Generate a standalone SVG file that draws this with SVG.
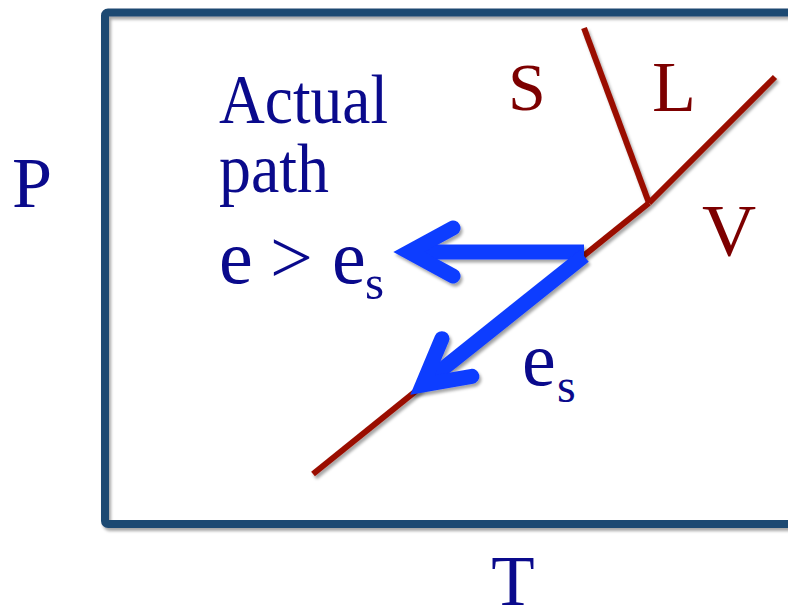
<svg xmlns="http://www.w3.org/2000/svg" width="788" height="610" viewBox="0 0 788 610">
  <defs>
    <filter id="shadow" x="-10%" y="-10%" width="130%" height="130%">
      <feDropShadow dx="2" dy="3" stdDeviation="1.8" flood-color="#000" flood-opacity="0.35"/>
    </filter>
    <style>
      .frame { fill: none; stroke: #1f4872; stroke-width: 8; }
      .phase { fill: none; stroke: #9a1000; stroke-width: 6; stroke-linecap: butt; }
      .shaft { fill: none; stroke: #0f3cff; stroke-width: 15; stroke-linecap: butt; }
      .head { fill: none; stroke: #0f3cff; stroke-width: 15; stroke-linecap: round; stroke-linejoin: miter; stroke-miterlimit: 6; }
      .blue { font-family: "Liberation Serif", "Times New Roman", serif; fill: #0a0a8c; }
      .red { font-family: "Liberation Serif", "Times New Roman", serif; fill: #7d0000; }
    </style>
  </defs>

  <rect id="frame" class="frame" x="105" y="12.5" width="700" height="511.5" rx="3" filter="url(#shadow)"/>

  <g id="axis-labels">
    <text id="label-P" class="blue" x="12" y="207" font-size="72">P</text>
    <text id="label-T" class="blue" x="513" y="605" font-size="71" text-anchor="middle">T</text>
  </g>

  <g id="phase-boundaries" filter="url(#shadow)">
    <line class="phase" x1="584" y1="28" x2="649" y2="203"/>
    <line class="phase" x1="775" y1="77" x2="649" y2="203"/>
    <line class="phase" x1="649" y1="203" x2="313" y2="474"/>
  </g>

  <g id="phase-labels">
    <text id="label-S" class="red" x="508" y="110" font-size="68">S</text>
    <text id="label-L" class="red" x="652" y="111" font-size="72">L</text>
    <text id="label-V" class="red" x="702" y="256" font-size="75">V</text>
  </g>

  <g id="arrows" filter="url(#shadow)">
    <g id="arrow-actual">
      <line class="shaft" x1="584" y1="252" x2="409" y2="252"/>
      <path class="head" d="M453,228 L409,252 L453,276"/>
    </g>
    <g id="arrow-es">
      <line class="shaft" x1="584" y1="256" x2="422.5" y2="385"/>
      <path class="head" d="M441.9,338.7 L422.5,385 L471.9,376.3"/>
    </g>
  </g>

  <g id="arrow-labels">
    <text id="label-actual" class="blue" x="219" y="123" font-size="69" textLength="169" lengthAdjust="spacingAndGlyphs">Actual</text>
    <text id="label-path" class="blue" x="219" y="192" font-size="69" textLength="110" lengthAdjust="spacingAndGlyphs">path</text>
    <text id="label-e-gt-es" class="blue" font-size="76"><tspan x="219" y="283">e</tspan><tspan x="270" y="283">&gt;</tspan><tspan x="332" y="283">e</tspan><tspan x="365" y="299" font-size="49">s</tspan></text>
    <text id="label-es" class="blue" font-size="76"><tspan x="522" y="385">e</tspan><tspan x="557" y="402" font-size="48">s</tspan></text>
  </g>
</svg>
